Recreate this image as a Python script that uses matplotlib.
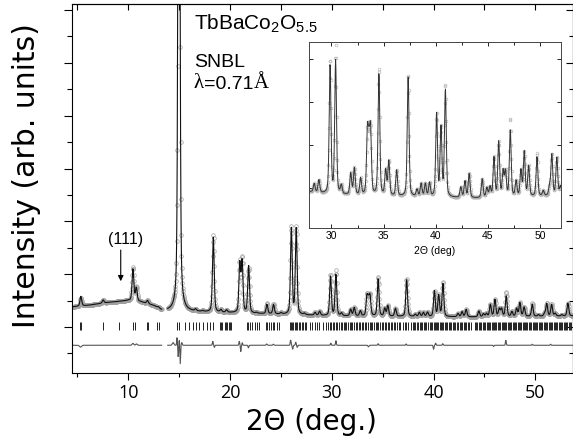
import matplotlib
matplotlib.use('Agg')
import matplotlib.pyplot as plt
import matplotlib.ticker as ticker
import numpy as np

# peaks: 2theta (deg) and calculated height above background
PEAK_POS = [5.33, 7.52, 10.45, 10.78, 11.88, 12.95,
            14.97, 16.6, 17.3, 18.35, 19.1, 19.65, 20.95, 21.18, 21.82, 22.6,
            23.62, 24.27, 25.0, 26.02, 26.5, 27.3,
            28.35, 28.8, 29.87, 30.4, 30.95, 31.85, 32.2, 32.8, 33.45, 33.6,
            33.75, 34.55, 35.2, 35.5, 36.25, 37.35, 38.2, 38.6, 39.0, 39.4,
            40.08, 40.5, 40.92, 42.4, 42.8, 43.2, 44.45, 44.9, 45.2, 45.58,
            46.03, 46.45, 46.68, 47.14, 47.7, 48.16, 48.48, 48.9, 49.7, 50.3,
            50.9, 51.12, 51.6, 51.95, 52.6, 53.2]
PEAK_CALC = [0.37, 0.12, 1.2, 0.5, 0.12, 0.04,
             32.0, 0.07, 0.03, 2.85, 0.09, 0.09, 1.82, 1.92, 1.78, 0.03,
             0.35, 0.35, 0.05, 3.25, 3.25, 0.05,
             0.10, 0.15, 1.5, 1.55, 0.10, 0.25, 0.31, 0.19, 0.7, 0.45,
             0.7, 1.42, 0.29, 0.4, 0.30, 1.40, 0.08, 0.15, 0.15, 0.16,
             0.97, 0.8, 1.25, 0.12, 0.19, 0.28, 0.22, 0.11, 0.12, 0.46,
             0.64, 0.29, 0.29, 0.77, 0.18, 0.3, 0.52, 0.35, 0.46, 0.06,
             0.09, 0.48, 0.44, 0.10, 0.05, 0.48]

# background level
BG_POS = [4.45, 6.0, 8.0, 10.0, 11.2, 12.5, 13.3, 13.85, 16.0, 20.0, 25.0,
          30.0, 36.0, 44.0, 50.0, 53.75]
BG_VAL = [0.76, 0.82, 0.93, 1.0, 0.95, 0.8, 0.62, 0.6, 0.58, 0.54, 0.48,
          0.42, 0.40, 0.38, 0.40, 0.42]

# obs - calc features: position, amplitude, width
DIFF_POS = [5.3, 10.45, 10.8, 14.4, 14.78, 14.9, 15.0, 15.1, 15.25, 18.3, 18.45,
            20.9, 21.05, 21.2, 21.8, 23.6, 24.25, 25.95, 26.15, 26.45, 26.6,
            29.9, 30.4, 33.6, 34.55, 37.3, 40.0, 40.2, 40.9, 45.9, 47.1, 49.7, 51.5]
DIFF_AMP = [-0.07, 0.07, 0.05, 0.1, 0.3, -0.45, 0.2, -0.7, 0.1, 0.15, -0.08,
            0.15, -0.25, 0.1, -0.1, 0.05, 0.04, 0.2, -0.15, 0.12, -0.08,
            0.08, 0.17, -0.06, 0.06, 0.05, -0.15, 0.08, 0.06, -0.05, 0.19, 0.04, 0.04]
DIFF_SIG = [0.1, 0.08, 0.08, 0.08, 0.03, 0.03, 0.025, 0.03, 0.05, 0.04, 0.04,
            0.04, 0.03, 0.03, 0.04, 0.05, 0.05, 0.04, 0.04, 0.04, 0.04,
            0.04, 0.04, 0.05, 0.04, 0.04, 0.04, 0.04, 0.04, 0.04, 0.04, 0.04, 0.04]

# Bragg reflection positions
BRAGG_POS = [5.2, 5.36, 7.49, 9.12, 10.43, 10.66, 11.8, 11.96, 12.84, 13.0,
             14.80, 14.97, 15.56, 15.98, 16.31, 16.64, 16.96, 17.29, 17.68, 18.01, 18.33,
             19.0, 19.12, 19.25, 19.45, 19.58, 19.7, 19.85, 20.0, 20.12,
             21.67, 21.8, 21.98, 22.2, 22.4, 22.6, 22.85,
             23.5, 23.62, 23.8, 24.0, 24.2, 24.35, 24.65, 24.8,
             25.85, 25.97, 26.1, 26.2, 26.35, 26.5, 26.62, 26.78, 26.9, 27.05, 27.2, 27.35, 27.5,
             27.85, 28.05, 28.3, 28.5, 28.75, 29.1,
             29.45, 29.6, 29.82, 29.95, 30.1, 30.25, 30.4, 30.52, 30.7, 30.85, 31.0, 31.15,
             31.3, 31.42, 31.6, 31.75, 31.9, 32.02, 32.2, 32.35, 32.5, 32.62, 32.8, 32.95,
             33.1, 33.22, 33.4, 33.55, 33.7, 33.82, 33.98, 34.12, 34.3, 34.45, 34.58, 34.75,
             34.9, 35.05, 35.2, 35.32, 35.5, 35.65, 35.8, 35.95, 36.1, 36.25, 36.4, 36.55, 36.7,
             37.0, 37.15, 37.3, 37.45,
             37.8, 37.95, 38.1, 38.22, 38.35, 38.5, 38.62, 38.78, 38.9, 39.05, 39.18, 39.3,
             39.45, 39.6, 39.72, 39.85, 40.0, 40.1, 40.22, 40.35, 40.48, 40.6, 40.72, 40.85,
             40.95, 41.1, 41.22, 41.35, 41.5, 41.62, 41.75, 41.9, 42.02, 42.15, 42.3, 42.42,
             42.55, 42.7, 42.82, 42.95, 43.1, 43.22, 43.35, 43.5, 43.65,
             44.05, 44.18, 44.3, 44.42, 44.55, 44.7, 44.82, 44.95, 45.08, 45.2, 45.32, 45.45,
             45.58, 45.7, 45.82, 45.95, 46.05, 46.18, 46.3, 46.42, 46.55, 46.68, 46.8, 46.92,
             47.05, 47.15, 47.28, 47.4, 47.52, 47.65, 47.78, 47.9, 48.0, 48.12, 48.25, 48.38,
             48.5, 48.62, 48.75, 48.85, 48.98, 49.1, 49.22, 49.35, 49.48, 49.6, 49.72, 49.85,
             49.95, 50.08, 50.2, 50.32, 50.45, 50.58, 50.7, 50.82, 50.95, 51.05, 51.18, 51.3,
             51.42, 51.55, 51.68, 51.8, 51.92, 52.05, 52.15, 52.28, 52.4, 52.52, 52.65, 52.78,
             52.9, 53.02, 53.15, 53.28, 53.4, 53.55, 53.68]

EXCLUDED = (13.3, 13.85)
TWO_THETA_RANGE = (4.45, 53.75)
STEP = 0.03

FWHM = 0.2
ETA = 0.4
DIFF_OFFSET = -0.69

plt.rcParams['font.family'] = 'Open Sans'
plt.rcParams['mathtext.fontset'] = 'custom'
plt.rcParams['mathtext.rm'] = 'Liberation Sans'
plt.rcParams['mathtext.it'] = 'Liberation Sans:italic'


def calc_profile(x):
    y = np.interp(x, BG_POS, BG_VAL)
    for p, h in zip(PEAK_POS, PEAK_CALC):
        d = (x - p) / (FWHM / 2)
        y = y + h * (ETA / (1 + d ** 2) + (1 - ETA) * np.exp(-np.log(2) * d ** 2))
    return y


def diff_profile(x):
    y = np.zeros_like(x)
    for p, a, s in zip(DIFF_POS, DIFF_AMP, DIFF_SIG):
        y = y + a * np.exp(-(x - p) ** 2 / (2 * s ** 2))
    return y


tt = np.arange(TWO_THETA_RANGE[0], TWO_THETA_RANGE[1], STEP)
gap = (tt > EXCLUDED[0]) & (tt < EXCLUDED[1])
calc = calc_profile(tt)
diff = diff_profile(tt)
obs = calc + diff
calc[gap] = np.nan
obs[gap] = np.nan
diff[gap] = np.nan

fig = plt.figure(figsize=(5.73, 4.42), dpi=100)
ax = fig.add_axes([72 / 573, 69 / 442, 501 / 573, 369 / 442])

ax.plot(tt, obs, linestyle='none', marker='o', mfc='none', mec='#a0a0a0',
        ms=2.6, mew=0.5)
ax.plot(tt, calc, color='#111111', lw=0.8)
ax.plot(tt, DIFF_OFFSET + diff, color='#555555', lw=0.8)
ax.vlines(BRAGG_POS, -0.13, 0.19, color='#222222', lw=0.7)

ax.set_xlim(4.46, 53.7)
ax.set_ylim(-1.74, 12.23)
ax.xaxis.set_major_locator(ticker.MultipleLocator(10))
ax.xaxis.set_minor_locator(ticker.MultipleLocator(5))
ax.yaxis.set_major_locator(ticker.MultipleLocator(2))
ax.yaxis.set_minor_locator(ticker.MultipleLocator(1))
ax.yaxis.set_major_formatter(ticker.NullFormatter())
ax.tick_params(axis='x', which='major', direction='out', length=5, width=0.8,
               labelsize=13, pad=3)
ax.tick_params(axis='x', which='minor', direction='out', length=3, width=0.8)
ax.tick_params(axis='y', which='major', direction='out', length=6, width=0.8)
ax.tick_params(axis='y', which='minor', direction='out', length=3.5, width=0.8)
for s in ax.spines.values():
    s.set_linewidth(0.8)

top = ax.secondary_xaxis('top')
top.xaxis.set_major_locator(ticker.MultipleLocator(5))
top.tick_params(direction='in', length=4, width=0.8, labeltop=False)
right = ax.secondary_yaxis('right')
right.yaxis.set_major_locator(ticker.MultipleLocator(2))
right.yaxis.set_minor_locator(ticker.MultipleLocator(1))
right.tick_params(which='major', direction='in', length=5, width=0.8, labelright=False)
right.tick_params(which='minor', direction='in', length=3, width=0.8)

# (111) marker
ax.annotate('', xy=(9.25, 1.63), xytext=(9.25, 3.02),
            arrowprops=dict(arrowstyle='-|>', color='k', lw=0.8, mutation_scale=8))
ax.text(9.72, 3.3, '(111)', ha='center', va='center', fontsize=11.5,
        fontfamily='Liberation Sans')

ax.text(0.2435, 0.9295, r'TbBaCo$_\mathrm{2}$O$_\mathrm{5.5}$', transform=ax.transAxes,
        fontsize=15, fontfamily='Liberation Sans', va='baseline')
ax.text(0.2435, 0.829, 'SNBL', transform=ax.transAxes, fontsize=14,
        fontfamily='Liberation Sans', va='baseline')
t1 = ax.text(0.2435, 0.759, 'λ', transform=ax.transAxes, fontsize=15,
             fontfamily='Liberation Serif', va='bottom')
t2 = ax.annotate('=0.71', xy=(1, 0), xycoords=t1, va='bottom', fontsize=14,
                 fontfamily='Liberation Sans')
ax.annotate('Å', xy=(1, 0), xycoords=t2, va='bottom', fontsize=15,
            fontfamily='Liberation Serif')

fig.text(311 / 573, 1 - 430 / 442, '2Θ (deg.)', ha='center', va='baseline',
         fontsize=20, fontfamily='DejaVu Sans')
fig.text(35 / 573, 1 - 176 / 442, 'Intensity (arb. units)', ha='center', va='baseline',
         rotation=90, rotation_mode='anchor', fontsize=21.5, fontfamily='DejaVu Sans')

# inset
axin = fig.add_axes([309 / 573, (442 - 228) / 442, 252 / 573, 186 / 442])
axin.plot(tt, obs, linestyle='none', marker='o', mfc='none', mec='#b4b4b4',
          ms=2.0, mew=0.45)
axin.plot(tt, calc, color='#333333', lw=0.7)
axin.set_xlim(27.85, 52.0)
axin.set_ylim(0.035, 2.2)
axin.xaxis.set_major_locator(ticker.MultipleLocator(5))
axin.xaxis.set_minor_locator(ticker.MultipleLocator(2.5))
axin.yaxis.set_major_locator(ticker.MultipleLocator(0.5))
axin.yaxis.set_major_formatter(ticker.NullFormatter())
axin.tick_params(which='major', direction='in', top=True, right=True, length=3,
                 width=0.6, labelsize=7.5, pad=2.5)
axin.tick_params(which='minor', direction='in', top=True, right=True, length=2,
                 width=0.6)
for lbl in axin.get_xticklabels():
    lbl.set_fontfamily('Liberation Sans')
axin.set_xlabel('2Θ (deg)', fontsize=7.5, fontfamily='Liberation Sans', labelpad=3)
for s in axin.spines.values():
    s.set_linewidth(0.7)
    s.set_color('#444444')

fig.savefig('out.png', dpi=100)
